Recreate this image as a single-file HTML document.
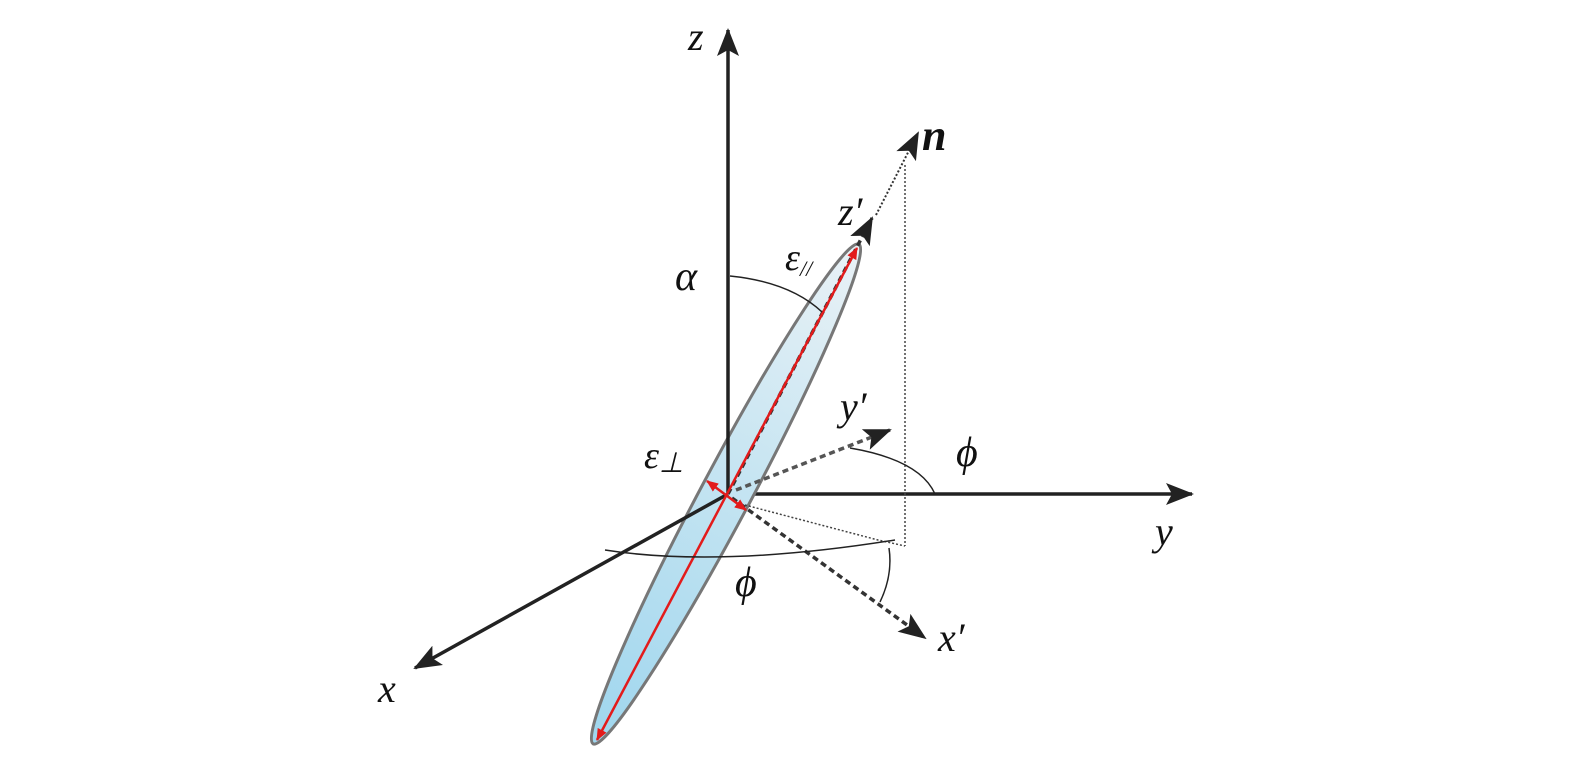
<!DOCTYPE html>
<html><head><style>body{margin:0;background:#fff}svg{display:block}text{font-family:"Liberation Serif",serif;font-style:italic;fill:#111}</style></head><body>
<svg width="1575" height="758" viewBox="0 0 1575 758" xmlns="http://www.w3.org/2000/svg">
<defs>
<linearGradient id="g" x1="0" y1="0" x2="1" y2="0"><stop offset="0" stop-color="#eaf2f6"/><stop offset="0.55" stop-color="#bfe2f1"/><stop offset="1" stop-color="#9fd6ee"/></linearGradient>
<marker id="big" markerWidth="28" markerHeight="22" refX="26" refY="11" orient="auto" markerUnits="userSpaceOnUse"><path d="M0,0 L28,11 L0,22 L6,11z" fill="#222"/></marker>
<marker id="red" markerWidth="12" markerHeight="10" refX="11" refY="5" orient="auto" markerUnits="userSpaceOnUse"><path d="M0,0 L12,5 L0,10z" fill="#e31b1b"/></marker>
<marker id="reds" markerWidth="12" markerHeight="10" refX="1" refY="5" orient="auto" markerUnits="userSpaceOnUse"><path d="M12,0 L0,5 L12,10z" fill="#e31b1b"/></marker>
</defs>
<line x1="728" y1="494" x2="1192" y2="494" stroke="#222" stroke-width="3.5" marker-end="url(#big)"/>
<g transform="translate(726,494) rotate(-62)">
<ellipse cx="0" cy="0" rx="283" ry="25" fill="url(#g)" stroke="#777" stroke-width="3" transform="rotate(180)"/>
</g>
<line x1="728" y1="494" x2="728" y2="30" stroke="#222" stroke-width="3.5" marker-end="url(#big)"/>
<line x1="728" y1="494" x2="415" y2="668" stroke="#222" stroke-width="3.5" marker-end="url(#big)"/>
<line x1="905" y1="165" x2="905" y2="546" stroke="#444" stroke-width="1.5" stroke-dasharray="2,2"/>
<polyline points="745,505 878,540 905,546" fill="none" stroke="#444" stroke-width="1.5" stroke-dasharray="2,2"/>
<line x1="876" y1="215" x2="918" y2="133" stroke="#333" stroke-width="2" stroke-dasharray="2,2" marker-end="url(#big)"/>
<line x1="728" y1="494" x2="872" y2="218" stroke="#333" stroke-width="3.5" stroke-dasharray="6,4" marker-end="url(#big)"/>
<line x1="732" y1="498" x2="925" y2="638" stroke="#333" stroke-width="3.5" stroke-dasharray="6,4" marker-end="url(#big)"/>
<line x1="736" y1="490" x2="890" y2="430" stroke="#555" stroke-width="3.5" stroke-dasharray="6,4" marker-end="url(#big)"/>
<line x1="597" y1="740" x2="857" y2="248" stroke="#e31b1b" stroke-width="2.5" marker-start="url(#reds)" marker-end="url(#red)"/>
<line x1="707" y1="481" x2="746" y2="510" stroke="#e31b1b" stroke-width="2.5" marker-start="url(#reds)" marker-end="url(#red)"/>
<path d="M730,276 Q790,282 822,312" fill="none" stroke="#222" stroke-width="1.5"/>
<path d="M850,448 Q920,460 935,494" fill="none" stroke="#222" stroke-width="1.5"/>
<path d="M605,550 Q720,568 895,540" fill="none" stroke="#222" stroke-width="1.5"/>
<path d="M889,548 Q893,575 880,602" fill="none" stroke="#222" stroke-width="1.5"/>
<text x="688" y="50" font-size="40">z</text>
<text x="1155" y="545" font-size="40">y</text>
<text x="378" y="702" font-size="40">x</text>
<text x="938" y="651" font-size="40">x′</text>
<text x="838" y="225" font-size="40">z′</text>
<text x="840" y="420" font-size="40">y′</text>
<text x="922" y="150" font-size="44" font-weight="bold">n</text>
<text x="675" y="290" font-size="42">α</text>
<text x="956" y="466" font-size="42" font-style="normal">ϕ</text>
<text x="735" y="596" font-size="42" font-style="normal">ϕ</text>
<text x="785" y="270" font-size="38" font-style="normal">ε<tspan font-size="22" dy="6">//</tspan></text>
<text x="644" y="468" font-size="38" font-style="normal">ε<tspan font-size="28" dy="4">⊥</tspan></text>
</svg>
</body></html>
